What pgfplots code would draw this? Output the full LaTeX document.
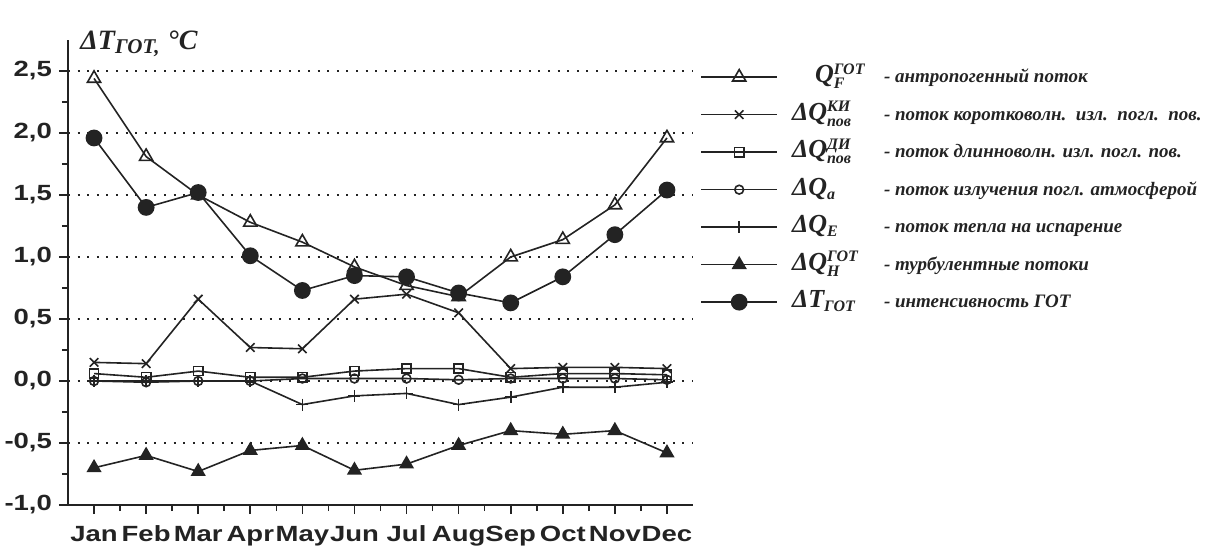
\documentclass[border=0pt]{standalone}
\usepackage{pgfplots}
\pgfplotsset{compat=1.18}
\usepackage{pgfplotstable}
\usepackage{fontspec}
\setmainfont{Liberation Serif}
\newfontfamily\tickfont{Liberation Sans}[FakeStretch=1.25]
\definecolor{ink}{RGB}{35,35,35}

\pgfplotstableread{
m  QF    KI    DI    Qa     QE     QH     T
1  2.44  0.15  0.06  0.00   0.00  -0.70  1.96
2  1.81  0.14  0.03  -0.01  0.00  -0.60  1.40
3  1.50  0.66  0.08  0.00   0.00  -0.73  1.52
4  1.28  0.27  0.03  0.00   0.00  -0.56  1.01
5  1.12  0.26  0.03  0.02  -0.19  -0.52  0.73
6  0.92  0.66  0.08  0.02  -0.12  -0.72  0.85
7  0.77  0.70  0.10  0.02  -0.10  -0.67  0.84
8  0.68  0.55  0.10  0.01  -0.19  -0.52  0.71
9  1.00  0.10  0.03  0.02  -0.13  -0.40  0.63
10 1.14  0.11  0.06  0.02  -0.05  -0.43  0.84
11 1.42  0.11  0.06  0.02  -0.05  -0.40  1.18
12 1.96  0.10  0.05  0.01  -0.01  -0.58  1.54
}\data

\newcommand{\symf}{\fontsize{13}{13}\selectfont\bfseries\itshape}
\newcommand{\supf}{\fontsize{8}{8}\selectfont\bfseries\itshape}
\newcommand{\descf}{\fontsize{9.5}{10}\selectfont\bfseries\itshape}
\newcommand{\LE}[2]{\makebox[46pt][l]{\symf #1}\descf #2}

\begin{document}
\begin{tikzpicture}
\useasboundingbox (-34pt,-24pt) rectangle (578pt,252.5pt);
\begin{axis}[
  name=ax,
  scale only axis, width=312.5pt, height=232.5pt,
  at={(0,0)}, anchor=south west,
  xmin=0.5, xmax=12.5, ymin=-1, ymax=2.75,
  axis lines=left, axis line style={-, ink, line width=1pt},
  xtick={1,...,12},
  xticklabels={Jan,Feb,Mar,Apr,May,Jun,Jul,Aug,Sep,Oct,Nov,Dec},
  minor x tick num=1,
  ytick={-1,-0.5,0,0.5,1,1.5,2,2.5}, minor y tick num=1,
  tick align=outside, tick style={ink, line width=0.8pt},
  major tick length=4.5pt, minor tick length=3pt,
  ymajorgrids, grid style={ink, line width=1pt, dash pattern=on 1pt off 3.8pt},
  /pgf/number format/assume math mode=true,
  yticklabel style={/pgf/number format/.cd, fixed, fixed zerofill, precision=1, use comma},
  xticklabel style={yshift=-2pt, text height=8.2pt, text depth=2.4pt},
  ticklabel style={font=\tickfont\bfseries\fontsize{11}{11}\selectfont, text=ink},
  every axis plot/.append style={ink, line width=0.8pt},
  legend image code/.code={\draw[mark repeat=2,mark phase=2] plot coordinates {(0pt,0pt) (19pt,0pt) (38pt,0pt)};},
  legend cell align=left,
  legend style={at={(1,1)}, anchor=north west, xshift=3.5pt, yshift=-9pt,
    draw=none, fill=none, inner sep=0pt, row sep=0pt, column sep=7pt,
    nodes={inner sep=0pt, text=ink, text height=12.25pt, text depth=6.5pt}},
]
\addplot[mark=triangle, mark size=3.8pt, mark options={fill=white, solid}] table[x=m,y=QF]{\data};
\addlegendentry{\LE{\hspace{11.5pt}Q$_{\mbox{\supf F}}^{\mbox{\supf ГОТ}}$}{- антропогенный поток}}
\addplot[mark=x, mark size=3pt] table[x=m,y=KI]{\data};
\addlegendentry{\LE{ΔQ$_{\mbox{\supf пов}}^{\mbox{\supf КИ}}$}{- поток коротковолн.\ \ изл.\ \ погл.\ \ пов.}}
\addplot[mark=square, mark size=2.3pt, mark options={fill=white}] table[x=m,y=DI]{\data};
\addlegendentry{\LE{ΔQ$_{\mbox{\supf пов}}^{\mbox{\supf ДИ}}$}{- поток длинноволн. изл. погл. пов.}}
\addplot[mark=o, mark size=2.2pt, mark options={fill=white}] table[x=m,y=Qa]{\data};
\addlegendentry{\LE{ΔQ$_{\mbox{\supf a}}$}{- поток излучения погл. атмосферой}}
\addplot[mark=+, mark size=3pt] table[x=m,y=QE]{\data};
\addlegendentry{\LE{ΔQ$_{\mbox{\supf E}}$}{- поток тепла на испарение}}
\addplot[mark=triangle*, mark size=3.6pt] table[x=m,y=QH]{\data};
\addlegendentry{\LE{ΔQ$_{\mbox{\supf H}}^{\mbox{\supf ГОТ}}$}{- турбулентные потоки}}
\addplot[mark=*, mark size=3.8pt] table[x=m,y=T]{\data};
\addlegendentry{\LE{ΔT$_{\mbox{\supf ГОТ}}$}{- интенсивность ГОТ}}
\end{axis}
\node[anchor=base west, inner sep=0pt, xshift=6pt, yshift=-4.5pt, text=ink,
  font=\fontsize{14}{14}\selectfont\bfseries\itshape] at (ax.north west)
  {ΔT$_{\mbox{\fontsize{10.5}{10.5}\selectfont\bfseries\itshape ГОТ,}}$ °C};
\end{tikzpicture}
\end{document}
